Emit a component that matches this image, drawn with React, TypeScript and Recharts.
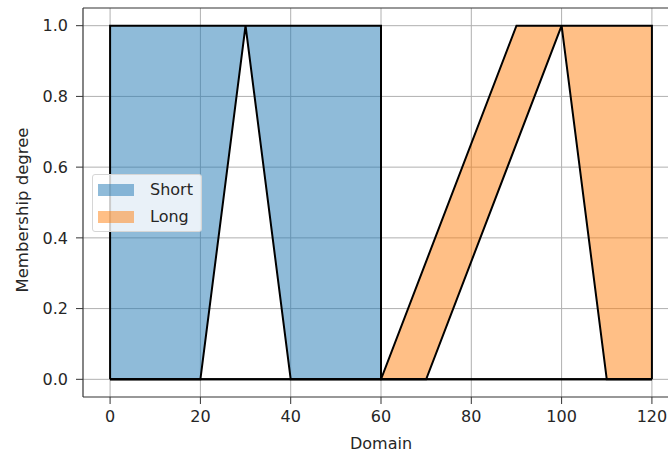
import React from 'react'
import {
  ComposedChart,
  Area,
  Line,
  XAxis,
  YAxis,
  CartesianGrid,
  Legend,
  ReferenceLine,
} from 'recharts'

const domainTicks = [0, 20, 40, 60, 80, 100, 120]
const degreeTicks = [0, 0.2, 0.4, 0.6, 0.8, 1.0]

// filled bands: lower and upper edge at each x
const shortFillX = [0, 20, 30, 40, 60]
const shortLower = [0, 0, 1, 0, 0]
const shortUpper = [1, 1, 1, 1, 1]

const longFillX = [60, 70, 90, 100, 110, 120]
const longLower = [0, 0, 0.667, 1, 0, 0]
const longUpper = [0, 0.333, 1, 1, 1, 1]

// black outlines
const shortTrapX = [0, 0, 60, 60, 120]
const shortTrapY = [0, 1, 1, 0, 0]
const shortTriX = [0, 20, 30, 40, 120]
const shortTriY = [0, 0, 1, 0, 0]
const longTrapX = [0, 60, 90, 120, 120]
const longTrapY = [0, 0, 1, 1, 0]
const longTriX = [0, 70, 100, 110, 120]
const longTriY = [0, 0, 1, 0, 0]

const seriesNames = ['Short', 'Long']
const seriesColors = ['#1f77b4', '#ff7f0e']

const band = (xs: number[], lo: number[], hi: number[]) =>
  xs.map((x, i) => ({ x, range: [lo[i], hi[i]] }))
const path = (xs: number[], ys: number[]) => xs.map((x, i) => ({ x, y: ys[i] }))

const FONT = '"DejaVu Sans", sans-serif'
const TEXT = '#262626'

function LegendBox() {
  return (
    <div
      style={{
        width: 110,
        height: 58,
        boxSizing: 'border-box',
        border: '1px solid #d6d6d6',
        borderRadius: 3,
        background: 'rgba(255,255,255,0.8)',
        fontFamily: FONT,
        fontSize: 16,
        color: TEXT,
        paddingTop: 2,
      }}
    >
      {seriesNames.map((name, i) => (
        <div key={name} style={{ display: 'flex', alignItems: 'center', height: 26.5 }}>
          <span
            style={{
              display: 'inline-block',
              marginLeft: 5,
              width: 36,
              height: 12,
              background: seriesColors[i],
              opacity: 0.5,
            }}
          />
          <span style={{ marginLeft: 16, lineHeight: '16px' }}>{name}</span>
        </div>
      ))}
    </div>
  )
}

export default function App() {
  const tickStyle = { fontFamily: FONT, fontSize: 16, fill: TEXT }
  const spine = { stroke: '#333', strokeWidth: 1.2 }
  return (
    <div style={{ position: 'absolute', left: 0, top: 0, width: 668, height: 454, overflow: 'hidden', background: '#fff' }}>
      <ComposedChart width={700} height={454} margin={{ top: 8, right: 21, bottom: 0, left: 0 }}>
        <CartesianGrid stroke="#b0b0b0" strokeWidth={1} syncWithTicks />
        <XAxis
          dataKey="x"
          type="number"
          domain={[-6, 126]}
          ticks={domainTicks}
          allowDataOverflow
          height={57}
          axisLine={spine}
          tickLine={{ stroke: '#333' }}
          tickSize={7}
          tickMargin={7}
          tick={tickStyle}
          label={({ viewBox }: any) => (
            <text x={viewBox.x + viewBox.width / 2} y={443} textAnchor="middle" dominantBaseline="central" fontFamily={FONT} fontSize={16} fill={TEXT}>
              Domain
            </text>
          )}
        />
        <YAxis
          type="number"
          domain={[-0.05, 1.05]}
          ticks={degreeTicks}
          allowDataOverflow
          width={83}
          axisLine={spine}
          tickLine={{ stroke: '#333' }}
          tickSize={7}
          tickMargin={8}
          tick={tickStyle}
          tickFormatter={(v: number) => v.toFixed(1)}
          label={() => (
            <text x={22} y={210} transform="rotate(-90 22 210)" textAnchor="middle" dominantBaseline="central" fontFamily={FONT} fontSize={16.5} fill={TEXT}>
              Membership degree
            </text>
          )}
        />
        <Area
          data={band(shortFillX, shortLower, shortUpper)}
          dataKey="range"
          type="linear"
          fill={seriesColors[0]}
          fillOpacity={0.5}
          stroke="none"
          isAnimationActive={false}
        />
        <Area
          data={band(longFillX, longLower, longUpper)}
          dataKey="range"
          type="linear"
          fill={seriesColors[1]}
          fillOpacity={0.5}
          stroke="none"
          isAnimationActive={false}
        />
        <Line data={path(shortTrapX, shortTrapY)} dataKey="y" type="linear" stroke="#000" strokeWidth={2} dot={false} isAnimationActive={false} />
        <Line data={path(shortTriX, shortTriY)} dataKey="y" type="linear" stroke="#000" strokeWidth={2} dot={false} isAnimationActive={false} />
        <Line data={path(longTrapX, longTrapY)} dataKey="y" type="linear" stroke="#000" strokeWidth={2} dot={false} isAnimationActive={false} />
        <Line data={path(longTriX, longTriY)} dataKey="y" type="linear" stroke="#000" strokeWidth={2} dot={false} isAnimationActive={false} />
        <ReferenceLine y={1.05} stroke="#333" strokeWidth={1.2} />
        <Legend
          layout="vertical"
          align="center"
          verticalAlign="middle"
          content={() => <LegendBox />}
          wrapperStyle={{ left: 92, top: 174, width: 110, height: 58 }}
        />
      </ComposedChart>
    </div>
  )
}
